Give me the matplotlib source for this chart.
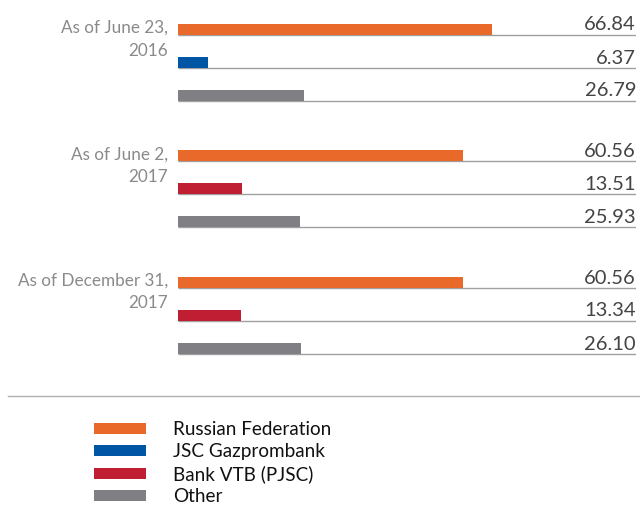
import matplotlib.pyplot as plt
from matplotlib.patches import Patch

plt.rcParams['font.family'] = ['Lato', 'DejaVu Sans']

# data
dates = ['As of June 23,\n2016', 'As of June 2,\n2017', 'As of December 31,\n2017']
holders = [
    ['Russian Federation', 'JSC Gazprombank', 'Other'],
    ['Russian Federation', 'Bank VTB (PJSC)', 'Other'],
    ['Russian Federation', 'Bank VTB (PJSC)', 'Other'],
]
shares = [
    [66.84, 6.37, 26.79],
    [60.56, 13.51, 25.93],
    [60.56, 13.34, 26.10],
]
legend_names = ['Russian Federation', 'JSC Gazprombank', 'Bank VTB (PJSC)', 'Other']
colors = {
    'Russian Federation': '#E8692A',
    'JSC Gazprombank': '#0055A5',
    'Bank VTB (PJSC)': '#C01F33',
    'Other': '#808084',
}

W, H = 640, 521
fig = plt.figure(figsize=(W / 100, H / 100), dpi=100)

# bar area: pixels 178..636 horizontally, 0..380 vertically
ax = fig.add_axes([178 / W, 1 - 380 / H, (636 - 178) / W, 380 / H])
ax.set_xlim(0, 97.4)
ax.set_ylim(380, 0)
ax.axis('off')

group_gap = 126.5
row_gap = 33
first = 29
bar_h = 11

for g, (label, names, vals) in enumerate(zip(dates, holders, shares)):
    for r, (name, v) in enumerate(zip(names, vals)):
        y = first + g * group_gap + r * row_gap
        ax.barh(y, v, height=bar_h, color=colors[name], zorder=2)
        ax.plot([0, 97.4], [y + bar_h / 2, y + bar_h / 2], color='#a0a0a0',
                lw=1, zorder=1, solid_capstyle='butt')
        ax.text(97.4, y + bar_h / 2 - 4, f'{v:.2f}', ha='right', va='baseline',
                fontsize=14.5, color='#444444')
    y0 = first + g * group_gap
    ax.text(-2.1, y0 - 9, label, ha='right', va='top',
            fontsize=12.3, color='#8a8a8a', linespacing=1.5,
            multialignment='right')

# separator line
fig.add_artist(plt.Line2D([8 / W, 1], [1 - 396 / H, 1 - 396 / H],
                          color='#b0b0b0', lw=1))

handles = [Patch(facecolor=colors[n], edgecolor='none') for n in legend_names]
fig.legend(handles, legend_names, loc='upper left',
           bbox_to_anchor=(94 / W, 1 - 421 / H), frameon=False,
           fontsize=13.6, handlelength=2.75, handleheight=0.5,
           handletextpad=1.45, labelspacing=0.27, borderpad=0, borderaxespad=0,
           labelcolor='#111111')

fig.savefig('out.png', dpi=100)
